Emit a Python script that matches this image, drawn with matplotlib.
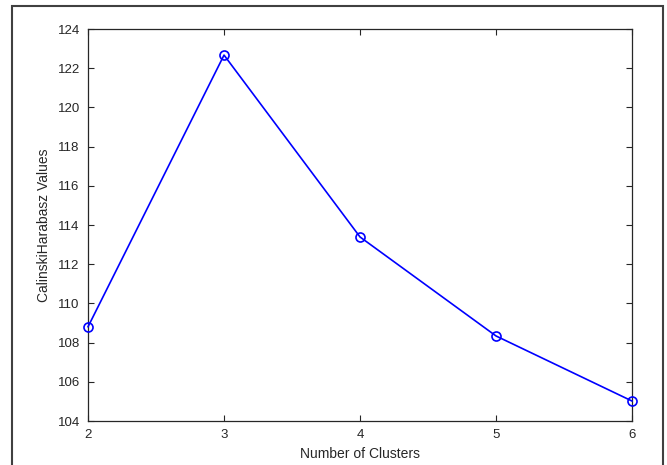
import matplotlib
matplotlib.use('Agg')
import matplotlib.pyplot as plt
from matplotlib.patches import Rectangle

# number of clusters vs Calinski-Harabasz criterion
clusters = [2, 3, 4, 5, 6]
ch_values = [108.81, 122.67, 113.39, 108.34, 105.02]

y_ticks = [104, 106, 108, 110, 112, 114, 116, 118, 120, 122, 124]

plt.rcParams['font.family'] = ['Liberation Sans', 'DejaVu Sans']

fig = plt.figure(figsize=(6.67, 4.65), dpi=100)
ax = fig.add_axes([0.132, 0.0946, 0.8155, 0.843])

ax.plot(clusters, ch_values, color='#0000ff', lw=1.2, marker='o',
        markersize=6.5, markerfacecolor='none', markeredgewidth=1.2,
        clip_on=False, zorder=5)

ax.set_xlim(2, 6)
ax.set_ylim(104, 124)
ax.set_xticks(clusters)
ax.set_yticks(y_ticks)
ax.tick_params(direction='in', length=4, width=0.8, top=True, right=True,
               labelsize=9.5, colors='#262626', pad=6)
for s in ax.spines.values():
    s.set_color('#262626')
    s.set_linewidth(0.9)

ax.set_xlabel('Number of Clusters', fontsize=10, color='#262626', labelpad=4)
ax.set_ylabel('CalinskiHarabasz Values', fontsize=10, color='#262626', labelpad=5)

# outer frame around the figure (screenshot border)
fig.patches.append(Rectangle((0.018, -0.05), 0.976, 1.037, transform=fig.transFigure,
                             fill=False, edgecolor='#404040', lw=1.5))

fig.savefig('out.png', dpi=100)
